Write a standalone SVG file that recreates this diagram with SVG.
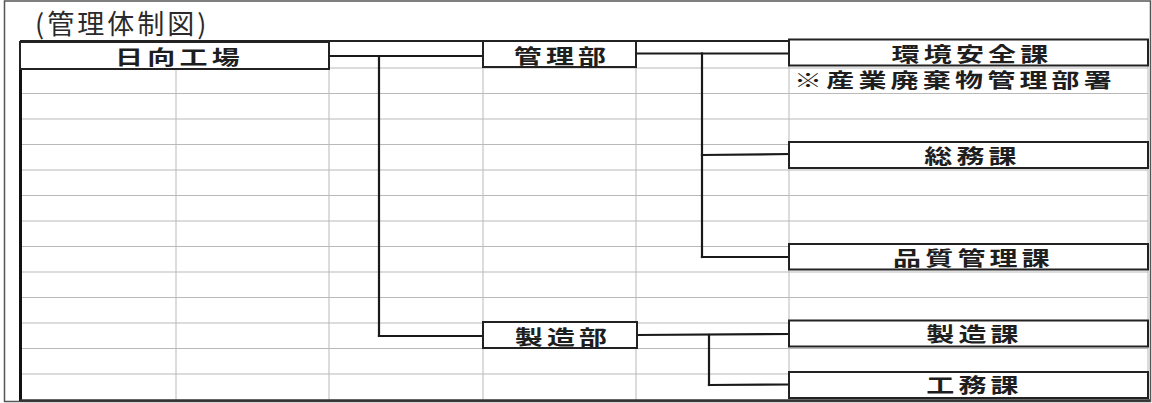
<svg xmlns="http://www.w3.org/2000/svg" width="1152" height="403" viewBox="0 0 1152 403">
<style>
.frame{fill:none;stroke:#555;stroke-width:1.5}
.grid line{stroke:#b9b9b9;stroke-width:1}
.node rect{fill:#fff;stroke:#222;stroke-width:2}
.lbl{font-family:"Noto Sans CJK JP","Noto Sans CJK SC",sans-serif;font-size:20px;font-weight:bold;fill:#1e1e1e;letter-spacing:3px;text-anchor:middle}
.note{font-family:"Noto Sans CJK JP","Noto Sans CJK SC",sans-serif;font-size:20px;font-weight:bold;fill:#1e1e1e;letter-spacing:3px}
.title{font-family:"Noto Sans CJK JP","Noto Sans CJK SC",sans-serif;font-size:27px;fill:#2a2a2a;letter-spacing:3px}
.conn line{stroke:#1a1a1a;stroke-width:2.2;stroke-linecap:square}
</style>
<rect width="1152" height="403" fill="#fff"/>
<rect class="frame" x="4.5" y="1" width="1146" height="400.5"/>
<text class="title" x="35" y="34">(管理体制図)</text>

<g id="grid" class="grid">
  <line x1="20" y1="68" x2="1148" y2="68"/>
  <line x1="20" y1="93.5" x2="1148" y2="93.5"/>
  <line x1="20" y1="119" x2="1148" y2="119"/>
  <line x1="20" y1="144.5" x2="1148" y2="144.5"/>
  <line x1="20" y1="170" x2="1148" y2="170"/>
  <line x1="20" y1="195.5" x2="1148" y2="195.5"/>
  <line x1="20" y1="221" x2="1148" y2="221"/>
  <line x1="20" y1="246.5" x2="1148" y2="246.5"/>
  <line x1="20" y1="272" x2="1148" y2="272"/>
  <line x1="20" y1="297.5" x2="1148" y2="297.5"/>
  <line x1="20" y1="323" x2="1148" y2="323"/>
  <line x1="20" y1="348.5" x2="1148" y2="348.5"/>
  <line x1="20" y1="374" x2="1148" y2="374"/>
  <line x1="176" y1="68" x2="176" y2="400"/>
  <line x1="329" y1="42" x2="329" y2="400"/>
  <line x1="483" y1="42" x2="483" y2="400"/>
  <line x1="636" y1="42" x2="636" y2="400"/>
  <line x1="789" y1="42" x2="789" y2="400"/>
  <line x1="1148" y1="41" x2="1148" y2="400"/>
</g>
<g id="table-border">
  <line x1="20" y1="41" x2="1148" y2="41" stroke="#222" stroke-width="2"/>
  <line x1="20.5" y1="41" x2="20.5" y2="401" stroke="#111" stroke-width="3"/>
  <line x1="20" y1="400.5" x2="1150" y2="400.5" stroke="#333" stroke-width="2.5"/>
</g>

<g id="connectors" class="conn">
  <line x1="329" y1="56" x2="483" y2="56"/>
  <line x1="379" y1="56" x2="379" y2="336"/>
  <line x1="379" y1="336" x2="483" y2="336"/>
  <line x1="636" y1="53.5" x2="789" y2="53.5"/>
  <line x1="702" y1="53.5" x2="702" y2="257"/>
  <line x1="702" y1="155" x2="789" y2="154"/>
  <line x1="702" y1="257" x2="789" y2="257"/>
  <line x1="637" y1="335" x2="789" y2="334"/>
  <line x1="709" y1="335" x2="709" y2="385"/>
  <line x1="709" y1="385" x2="789" y2="384.5"/>
</g>

<g id="hyuga" class="node">
  <rect x="20" y="42" width="309" height="27" stroke-width="2.6"/>
  <text class="lbl" transform="translate(179.5 64.5) scale(1.4 1)">日向工場</text>
</g>
<g id="kanri" class="node">
  <rect x="483" y="41" width="153" height="26"/>
  <text class="lbl" transform="translate(562 63.5) scale(1.4 1)">管理部</text>
</g>
<g id="kankyo" class="node">
  <rect x="789" y="39.5" width="359" height="26"/>
  <text class="lbl" transform="translate(972 61.5) scale(1.4 1)">環境安全課</text>
  <text class="note" transform="translate(794 87.5) scale(1.4 1)">※産業廃棄物管理部署</text>
</g>
<g id="somu" class="node">
  <rect x="789" y="142" width="359" height="26"/>
  <text class="lbl" transform="translate(972.5 163.5) scale(1.4 1)">総務課</text>
</g>
<g id="hinshitsu" class="node">
  <rect x="789" y="244" width="359" height="25.5"/>
  <text class="lbl" transform="translate(973.5 265.5) scale(1.4 1)">品質管理課</text>
</g>
<g id="seizobu" class="node">
  <rect x="483" y="322" width="154" height="26"/>
  <text class="lbl" transform="translate(563 344.5) scale(1.4 1)">製造部</text>
</g>
<g id="seizoka" class="node">
  <rect x="789" y="320.5" width="359" height="26"/>
  <text class="lbl" transform="translate(974.5 341.5) scale(1.4 1)">製造課</text>
</g>
<g id="komu" class="node">
  <rect x="789" y="372" width="359" height="26"/>
  <text class="lbl" transform="translate(974.5 392.5) scale(1.4 1)">工務課</text>
</g>
</svg>
